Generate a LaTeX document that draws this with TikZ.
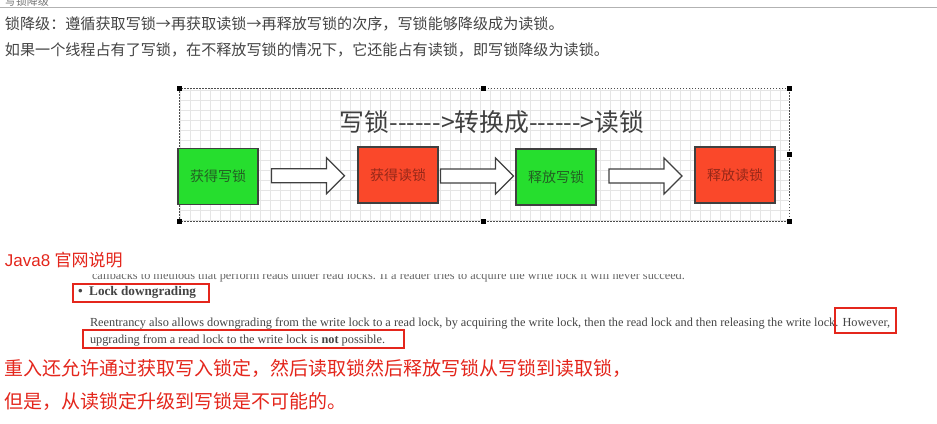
\documentclass[tikz,border=0pt]{standalone}
\usepackage{fontspec}
\setmainfont{Liberation Serif}
\newfontfamily\cjk{Noto Sans CJK SC}
\newfontfamily\arial{Liberation Sans}
\usetikzlibrary{positioning,calc}
\definecolor{lockgreen}{RGB}{38,222,46}
\definecolor{lockred}{RGB}{250,72,42}
\definecolor{greentext}{RGB}{35,95,35}
\definecolor{redtext}{RGB}{150,40,25}
\definecolor{notered}{RGB}{228,38,28}
\definecolor{bodygray}{RGB}{68,68,68}

\begin{document}
\begin{tikzpicture}[x=1pt,y=1pt,auto]
                        \tikzstyle{every node}=[inner sep=0,outer sep=0]
                        \tikzstyle{note}=[draw=none,anchor=west,text=bodygray]
                        \tikzstyle{cnline}=[note,font=\cjk\fontsize{15.1}{15.1}\selectfont]
                        \tikzstyle{redline}=[note,text=notered,font=\cjk\fontsize{19}{19}\selectfont]
                        \tikzstyle{doc}=[note,font=\fontsize{12.3}{12.3}\selectfont]
                        \tikzstyle{redbox}=[draw=notered,line width=1.6]
                        \tikzstyle{lock}=[draw=black!75,line width=1.2,minimum width=80,minimum height=56,font=\cjk\fontsize{14}{14}\selectfont]
                        \tikzstyle{lockw}=[lock,fill=lockgreen,text=greentext]
                        \tikzstyle{lockr}=[lock,fill=lockred,text=redtext]
                        \tikzstyle{blockarrow}=[draw=black!75,line width=1.2,fill=white,line join=miter]
                        \tikzstyle{handle}=[fill=black]
                        {
                            \fill[white] (0,0) rectangle (937,-423);
                            \useasboundingbox (0,0) rectangle (937,-423);

                            % page head
                            \begin{scope}
                                \clip (0,0) rectangle (937,-5);
                                \node[note,text=black!55,font=\cjk\fontsize{11}{11}\selectfont] (crumb) at (5,-1) {写锁降级};
                            \end{scope}
                            \draw[black!30] (0,-7) -- (937,-7);
                            \node[cnline] (intro1) at (5,-24) {锁降级：遵循获取写锁→再获取读锁→再释放写锁的次序，写锁能够降级成为读锁。};
                            \node[cnline] (intro2) at (5,-50) {如果一个线程占有了写锁，在不释放写锁的情况下，它还能占有读锁，即写锁降级为读锁。};

                            % drawing canvas
                            \draw[black!10,step=10] (179,-88) grid (789,-221);
                            \draw[black!70,dash pattern=on 1.5pt off 1.5pt] (179,-88) rectangle (789,-221);
                            \foreach \hx/\hy in {179/-88,483/-88,789/-88,179/-221,483/-221,789/-221,789/-154} {
                                \fill[handle] ($(\hx,\hy)+(-2.5,-2.5)$) rectangle ++(5,5);
                            }
                            \fill[violet!60] (179,-150) rectangle ++(3,-3);
                            \node[note,anchor=center,text=black!75,font=\cjk\fontsize{24.8}{24.8}\selectfont] (title) at (492,-122) {写锁------>转换成------>读锁};

                            \foreach \number/\x/\y/\kind/\label in {0/218/-176.5/lockw/获得写锁,1/398/-175/lockr/获得读锁,2/556/-177/lockw/释放写锁,3/735/-175/lockr/释放读锁} {
                                \node[\kind] (b\number) at (\x,\y) {\label};
                            }
                            \foreach \number/\next in {0/1,1/2,2/3} {
                                \coordinate (a\number) at ($(b\number.east)!0.5!(b\next.west)$);
                                \draw[blockarrow] ($(a\number)+(-36.5,7)$) -- ++(55,0) -- ++(0,11) -- ++(18,-18)
                                    -- ++(-18,-18) -- ++(0,11) -- ++(-55,0) -- cycle;
                            }

                            % doc excerpt
                            \node[note,text=notered,font=\fontsize{17}{17}\selectfont] (java) at (5,-260) {{\arial Java8} {\cjk 官网说明}};
                            \begin{scope}
                                \clip (0,-274) rectangle (937,-284);
                                \node[doc,text=black!60] (cut) at (92,-276) {callbacks to methods that perform reads under read locks. If a reader tries to acquire the write lock it will never succeed.};
                            \end{scope}
                            \node[doc,font=\bfseries\fontsize{13.2}{13.2}\selectfont] (bullet) at (78,-292) {\textbullet\enspace Lock downgrading};
                            \node[doc] (para1) at (90,-323) {Reentrancy also allows downgrading from the write lock to a read lock, by acquiring the write lock, then the read lock and then releasing the write lock. However,};
                            \node[doc] (para2) at (90,-340) {upgrading from a read lock to the write lock is \textbf{not} possible.};
                            \draw[redbox] (73,-284) rectangle (209,-302);
                            \draw[redbox] (835,-308) rectangle (896,-333);
                            \draw[redbox] (83,-330) rectangle (404,-348);

                            \node[redline] (zh1) at (5,-368) {重入还允许通过获取写入锁定，然后读取锁然后释放写锁从写锁到读取锁，};
                            \node[redline] (zh2) at (5,-401) {但是，从读锁定升级到写锁是不可能的。};
                        }
                    \end{tikzpicture}
\end{document}
